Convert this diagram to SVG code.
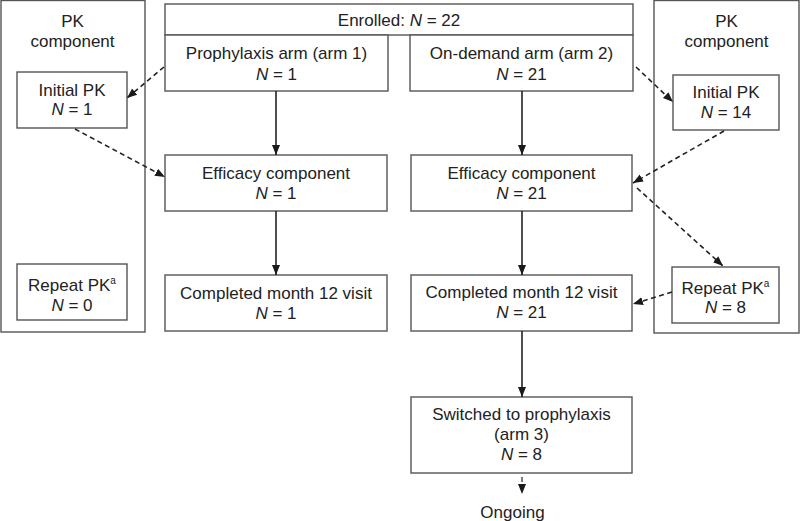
<svg xmlns="http://www.w3.org/2000/svg" width="800" height="521" viewBox="0 0 800 521">
<defs>
<marker id="ah" markerUnits="userSpaceOnUse" markerWidth="10" markerHeight="10" viewBox="0 0 10 10" refX="10" refY="5" orient="auto">
<path d="M0,1 L10,5 L0,9 Z" fill="#1a1a1a"/>
</marker>
</defs>
<style>
rect{fill:#fff;stroke:#555;stroke-width:1.4}
text{font-family:"Liberation Sans",Arial,sans-serif;font-size:17px;fill:#222;text-anchor:middle}
.i{font-style:italic}
.sup{font-size:10px}
.s{stroke:#222;stroke-width:1.6;fill:none;marker-end:url(#ah)}
.d{stroke:#222;stroke-width:1.6;fill:none;stroke-dasharray:5 3.5;marker-end:url(#ah)}
</style>
<rect x="0" y="0" width="800" height="521" style="fill:#fff;stroke:none"/>

<g id="pk-left">
<rect x="1" y="0.5" width="144" height="331.5"/>
<text x="72.5" y="27">PK</text>
<text x="72.5" y="46.5">component</text>
</g>
<g id="initial-pk-left">
<rect x="17" y="72" width="110" height="56"/>
<text x="72" y="96">Initial PK</text>
<text x="72" y="115"><tspan class="i">N</tspan> = 1</text>
</g>
<g id="repeat-pk-left">
<rect x="17" y="264" width="110" height="56"/>
<text x="72" y="291">Repeat PK<tspan class="sup" dy="-7">a</tspan></text>
<text x="72" y="310.5"><tspan class="i">N</tspan> = 0</text>
</g>

<g id="pk-right">
<rect x="654" y="0.5" width="145" height="332.5"/>
<text x="726.5" y="27">PK</text>
<text x="726.5" y="46.5">component</text>
</g>
<g id="initial-pk-right">
<rect x="673" y="75" width="106" height="55"/>
<text x="726" y="97.5">Initial PK</text>
<text x="726" y="117.5"><tspan class="i">N</tspan> = 14</text>
</g>
<g id="repeat-pk-right">
<rect x="672" y="267" width="107" height="56"/>
<text x="725.5" y="294">Repeat PK<tspan class="sup" dy="-7">a</tspan></text>
<text x="725.5" y="313"><tspan class="i">N</tspan> = 8</text>
</g>

<g id="enrolled">
<rect x="165" y="4" width="468" height="31"/>
<text x="399" y="25.5">Enrolled: <tspan class="i">N</tspan> = 22</text>
</g>
<g id="arm1">
<rect x="165" y="35" width="223" height="56"/>
<text x="276.5" y="59">Prophylaxis arm (arm 1)</text>
<text x="276.5" y="80"><tspan class="i">N</tspan> = 1</text>
</g>
<g id="arm2">
<rect x="410" y="35" width="223" height="56"/>
<text x="521.5" y="59">On-demand arm (arm 2)</text>
<text x="521.5" y="80"><tspan class="i">N</tspan> = 21</text>
</g>
<g id="efficacy-left">
<rect x="165" y="155" width="222" height="56"/>
<text x="276" y="179">Efficacy component</text>
<text x="276" y="199"><tspan class="i">N</tspan> = 1</text>
</g>
<g id="efficacy-right">
<rect x="411" y="155" width="221" height="56"/>
<text x="521.5" y="179">Efficacy component</text>
<text x="521.5" y="199"><tspan class="i">N</tspan> = 21</text>
</g>
<g id="completed-left">
<rect x="165" y="275" width="222" height="56"/>
<text x="276" y="298.5">Completed month 12 visit</text>
<text x="276" y="318.5"><tspan class="i">N</tspan> = 1</text>
</g>
<g id="completed-right">
<rect x="411" y="275" width="221" height="56"/>
<text x="521.5" y="298">Completed month 12 visit</text>
<text x="521.5" y="318"><tspan class="i">N</tspan> = 21</text>
</g>
<g id="switched">
<rect x="411" y="397" width="221" height="76"/>
<text x="521.5" y="420">Switched to prophylaxis</text>
<text x="521.5" y="440">(arm 3)</text>
<text x="521.5" y="459.5"><tspan class="i">N</tspan> = 8</text>
</g>
<g id="ongoing">
<text x="512.5" y="518">Ongoing</text>
</g>

<g id="connectors">
<path class="s" d="M276,91 V155"/>
<path class="s" d="M522,91 V155"/>
<path class="s" d="M276,211 V275"/>
<path class="s" d="M522,211 V275"/>
<path class="s" d="M522,331 V397"/>
<path class="d" d="M522,477 V494" style="stroke-width:1.2"/>
<path class="d" d="M164,67 L127,98"/>
<path class="d" d="M75,129 L165,177"/>
<path class="d" d="M636,67 L673,102"/>
<path class="d" d="M724,131 L633,183"/>
<path class="d" d="M637,188 L723,266"/>
<path class="d" d="M672,292 L633,304"/>
</g>
</svg>
